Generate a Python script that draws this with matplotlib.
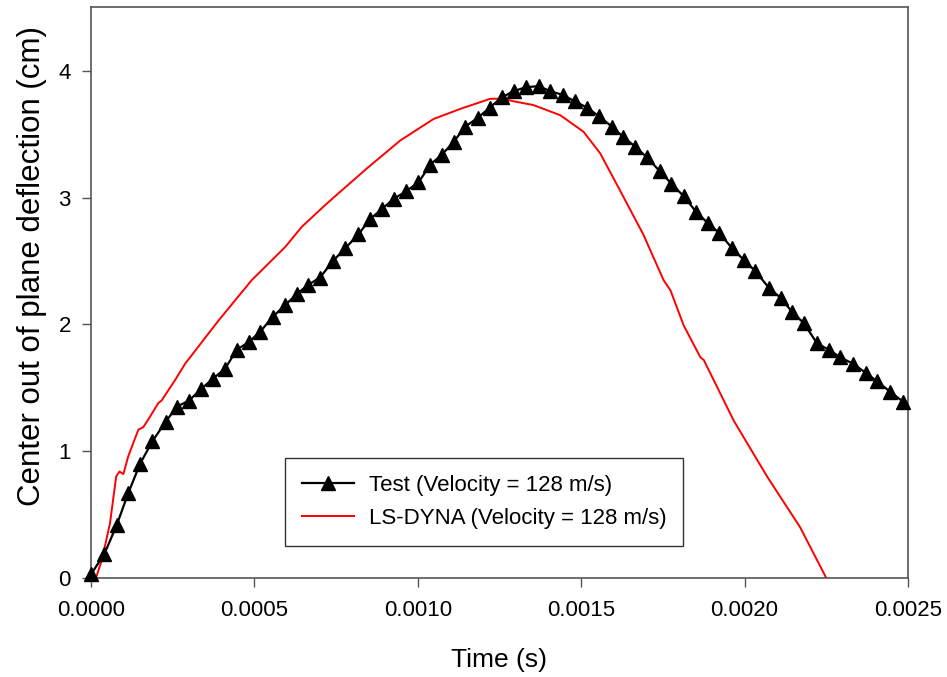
import matplotlib
matplotlib.use("Agg")
import matplotlib.pyplot as plt

plt.rcParams["font.family"] = ["Liberation Sans", "DejaVu Sans"]

# --- Test (Velocity = 128 m/s): time (s), deflection (cm) ---
test_t = [0.0, 0.000041, 0.000079, 0.000114, 0.000150, 0.000188, 0.000228, 0.000262,
          0.000300, 0.000337, 0.000372, 0.000410, 0.000446, 0.000482, 0.000517, 0.000556,
          0.000593, 0.000630, 0.000663, 0.000701, 0.000740, 0.000778, 0.000818, 0.000854,
          0.000890, 0.000926, 0.000964, 0.001002, 0.001038, 0.001074, 0.001110, 0.001145,
          0.001184, 0.001220, 0.001257, 0.001293, 0.001330, 0.001370, 0.001405, 0.001444,
          0.001480, 0.001518, 0.001555, 0.001594, 0.001628, 0.001666, 0.001700, 0.001740,
          0.001776, 0.001814, 0.001851, 0.001887, 0.001923, 0.001962, 0.001997, 0.002033,
          0.002074, 0.002110, 0.002145, 0.002181, 0.002222, 0.002258, 0.002293, 0.002332,
          0.002370, 0.002406, 0.002445, 0.002485]
test_d = [0.03, 0.19, 0.42, 0.67, 0.90, 1.08, 1.23, 1.35,
          1.40, 1.49, 1.57, 1.65, 1.80, 1.86, 1.94, 2.06,
          2.15, 2.24, 2.31, 2.37, 2.50, 2.60, 2.71, 2.83,
          2.91, 2.99, 3.05, 3.12, 3.26, 3.34, 3.44, 3.56,
          3.63, 3.71, 3.79, 3.84, 3.87, 3.88, 3.84, 3.81,
          3.76, 3.71, 3.64, 3.56, 3.48, 3.40, 3.32, 3.21,
          3.11, 3.01, 2.89, 2.80, 2.72, 2.60, 2.51, 2.42,
          2.29, 2.21, 2.10, 2.01, 1.85, 1.80, 1.74, 1.69,
          1.62, 1.55, 1.47, 1.39]

# --- LS-DYNA (Velocity = 128 m/s) ---
dyna_t = [0.0, 0.000015, 0.000033, 0.000058, 0.000077, 0.000087, 0.000099, 0.000114,
          0.000130, 0.000145, 0.000160, 0.000180, 0.000206, 0.000216, 0.000257, 0.000288,
          0.000390, 0.000492, 0.000594, 0.000645, 0.000716, 0.000742, 0.000844, 0.000946,
          0.001048, 0.001130, 0.001222, 0.001260, 0.001293, 0.001354, 0.001436, 0.001507,
          0.001558, 0.001614, 0.001690, 0.001752, 0.001773, 0.001814, 0.001865, 0.001875,
          0.001967, 0.002069, 0.002170, 0.002250]
dyna_d = [0.0, 0.0, 0.14, 0.43, 0.80, 0.84, 0.82, 0.96,
          1.07, 1.17, 1.19, 1.27, 1.38, 1.40, 1.56, 1.69,
          2.03, 2.35, 2.61, 2.77, 2.94, 3.00, 3.23, 3.45,
          3.62, 3.70, 3.78, 3.78, 3.76, 3.73, 3.65, 3.52,
          3.35, 3.08, 2.71, 2.35, 2.27, 1.99, 1.74, 1.72,
          1.24, 0.80, 0.40, 0.0]

xticks = [0.0, 0.0005, 0.0010, 0.0015, 0.0020, 0.0025]
yticks = [0, 1, 2, 3, 4]

fig = plt.figure(figsize=(9.47, 6.77), dpi=100)
ax = fig.add_axes([0.0961, 0.1462, 0.8627, 0.8428])

ax.plot(test_t, test_d, "-", color="black", lw=1.6, marker="^", ms=10,
        mfc="black", mec="black", clip_on=False, zorder=3,
        label="Test (Velocity = 128 m/s)")
ax.plot(dyna_t, dyna_d, "-", color="red", lw=1.4, zorder=2,
        label="LS-DYNA (Velocity = 128 m/s)")

ax.set_xlim(0, 0.0025)
ax.set_ylim(0, 4.5)
ax.set_xticks(xticks)
ax.set_xticklabels([f"{t:.4f}" for t in xticks])
ax.set_yticks(yticks)
ax.set_yticklabels([str(v) for v in yticks])
ax.tick_params(direction="out", length=6.5, width=1, color="#555555", labelsize=16)
ax.tick_params(axis="x", pad=9)
ax.tick_params(axis="y", pad=8)
for sp in ax.spines.values():
    sp.set_color("#555555")
    sp.set_linewidth(1.2)

ax.set_xlabel("Time (s)", fontsize=19, labelpad=20)
ax.set_ylabel("Center out of plane deflection (cm)", fontsize=22.5)
ax.yaxis.set_label_coords(-0.054, 0.547)

leg = ax.legend(loc="upper left", bbox_to_anchor=(0.2375, 0.2103), fontsize=16,
                frameon=True, fancybox=False, borderaxespad=0, borderpad=0.75,
                handlelength=2.35, handletextpad=0.68, labelspacing=0.55)
leg.get_frame().set_edgecolor("black")
leg.get_frame().set_linewidth(1.0)

fig.savefig("out.png", dpi=100)
